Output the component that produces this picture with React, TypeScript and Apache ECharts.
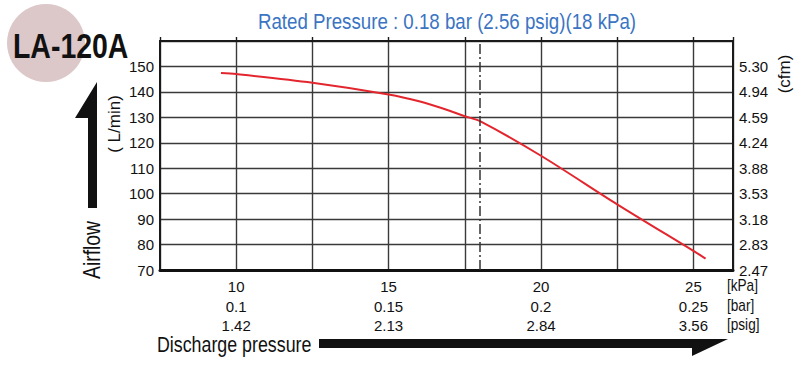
import React, { useEffect, useRef } from "react";
import * as echarts from "echarts";

const pressureKpa = [9.5, 10, 12.5, 15, 16, 17, 17.5, 18, 20, 22.5, 25, 25.4];
const airflowLpm = [147.4, 147.0, 143.6, 139.0, 136.3, 132.6, 130.4, 128.5, 114.9, 95.8, 77.5, 74.5];
const kpaTicks = [10, 15, 20, 25];
const barLabels = ["0.1", "0.15", "0.2", "0.25"];
const psigLabels = ["1.42", "2.13", "2.84", "3.56"];
const flowTicks = [70, 80, 90, 100, 110, 120, 130, 140, 150];
const cfmLabels = ["2.47", "2.83", "3.18", "3.53", "3.88", "4.24", "4.59", "4.94", "5.30"];
const unitLabels = ["[kPa]", "[bar]", "[psig]"];
const ratedKpa = 18;
const titleText = "Rated Pressure : 0.18 bar (2.56 psig)(18 kPa)";
const modelName = "LA-120A";

const SANS = "'Liberation Sans', Arial, Helvetica, sans-serif";

export default function App() {
  const ref = useRef<HTMLDivElement>(null);
  useEffect(() => {
    if (!ref.current) return;
    const chart = echarts.init(ref.current, null, { renderer: "svg" });
    const data = pressureKpa.map((x, i) => [x, airflowLpm[i]]);
    const option: any = {
      animation: false,
      backgroundColor: "#ffffff",
      textStyle: { fontFamily: SANS },
      grid: {
        left: 160,
        right: 71,
        top: 41,
        bottom: 105,
        show: true,
        borderColor: "#1a1a1a",
        borderWidth: 2,
      },
      xAxis: [
        {
          type: "value",
          min: 7.5,
          max: 26.3,
          interval: 2.5,
          position: "bottom",
          axisLine: { show: true, lineStyle: { color: "#111", width: 3 } },
          axisTick: { show: false },
          splitLine: { show: true, lineStyle: { color: "#3a3a3a", width: 1.4 } },
          axisLabel: {
            margin: 7,
            fontSize: 15,
            lineHeight: 19.5,
            color: "#111",
            fontFamily: SANS,
            showMaxLabel: false,
            formatter: (v: number) => {
              const i = kpaTicks.findIndex((k) => Math.abs(k - v) < 1e-6);
              if (i < 0) return "";
              return `${kpaTicks[i]}\n${barLabels[i]}\n${psigLabels[i]}`;
            },
          },
        },
        {
          type: "value",
          min: 7.5,
          max: 26.3,
          interval: 2.5,
          position: "top",
          axisLine: { show: true, lineStyle: { color: "#1a1a1a", width: 2 } },
          axisTick: { show: true, length: 4, inside: false, lineStyle: { color: "#1a1a1a", width: 1.4 } },
          splitLine: { show: false },
          axisLabel: { show: false },
        },
      ],
      yAxis: [
        {
          type: "value",
          min: 70,
          max: 160,
          interval: 10,
          position: "left",
          axisLine: { show: true, lineStyle: { color: "#1a1a1a", width: 2 } },
          axisTick: { show: false },
          splitLine: { show: true, lineStyle: { color: "#3a3a3a", width: 1.4 } },
          axisLabel: {
            margin: 6,
            fontSize: 15,
            color: "#111",
            fontFamily: SANS,
            formatter: (v: number) => (flowTicks.includes(v) ? String(v) : ""),
          },
        },
        {
          type: "value",
          min: 70,
          max: 160,
          interval: 10,
          position: "right",
          axisLine: { show: true, lineStyle: { color: "#1a1a1a", width: 2 } },
          axisTick: { show: false },
          splitLine: { show: false },
          axisLabel: {
            margin: 6,
            fontSize: 15,
            color: "#111",
            fontFamily: SANS,
            formatter: (v: number) => {
              const i = flowTicks.indexOf(v);
              return i >= 0 ? cfmLabels[i] : "";
            },
          },
        },
      ],
      series: [
        {
          type: "line",
          data,
          smooth: 0.3,
          showSymbol: false,
          lineStyle: { color: "#e3262e", width: 2 },
          markLine: {
            silent: true,
            symbol: "none",
            label: { show: false },
            lineStyle: { color: "#333", width: 1.5, type: [10, 3, 2, 3] },
            data: [{ xAxis: ratedKpa }],
          },
        },
      ],
      graphic: [
        { type: "circle", shape: { cx: 46, cy: 43, r: 39 }, style: { fill: "#dcc7c9" } },
        {
          type: "text",
          x: 13,
          y: 46,
          scaleX: 0.79,
          style: {
            text: modelName,
            fontSize: 36,
            fontWeight: "bold",
            fontFamily: SANS,
            fill: "#111",
            align: "left",
            verticalAlign: "middle",
            shadowColor: "rgba(0,0,0,0.35)",
            shadowOffsetX: 1,
            shadowOffsetY: 1,
          },
        },
        {
          type: "text",
          x: 447,
          y: 21,
          scaleX: 0.85,
          style: {
            text: titleText,
            fontSize: 22,
            fontFamily: SANS,
            fill: "#3a74c2",
            align: "center",
            verticalAlign: "middle",
          },
        },
        {
          type: "polygon",
          shape: { points: [[97, 82], [97, 208], [88, 208], [88, 118], [75, 118]] },
          style: { fill: "#111" },
        },
        {
          type: "text",
          x: 92,
          y: 250,
          rotation: Math.PI / 2,
          scaleX: 0.84,
          style: {
            text: "Airflow",
            fontSize: 23,
            fontFamily: SANS,
            fill: "#111",
            align: "center",
            verticalAlign: "middle",
          },
        },
        {
          type: "text",
          x: 114,
          y: 124,
          rotation: Math.PI / 2,
          style: {
            text: "( L/min)",
            fontSize: 17,
            fontFamily: SANS,
            fill: "#111",
            align: "center",
            verticalAlign: "middle",
          },
        },
        {
          type: "text",
          x: 784,
          y: 74,
          rotation: Math.PI / 2,
          style: {
            text: "(cfm)",
            fontSize: 17,
            fontFamily: SANS,
            fill: "#111",
            align: "center",
            verticalAlign: "middle",
          },
        },
        ...unitLabels.map((t, i) => ({
          type: "text",
          x: 727,
          y: 286 + i * 19.5,
          scaleX: 0.85,
          style: {
            text: t,
            fontSize: 16,
            fontFamily: SANS,
            fill: "#111",
            align: "left",
            verticalAlign: "middle",
          },
        })),
        {
          type: "text",
          x: 157,
          y: 344,
          scaleX: 0.81,
          style: {
            text: "Discharge pressure",
            fontSize: 22,
            fontFamily: SANS,
            fill: "#111",
            align: "left",
            verticalAlign: "middle",
          },
        },
        {
          type: "polygon",
          shape: { points: [[319, 339], [728, 339], [692, 356], [692, 348], [319, 348]] },
          style: { fill: "#111" },
        },
      ],
    };
    chart.setOption(option);
    return () => chart.dispose();
  }, []);
  return (
    <div
      ref={ref}
      style={{ position: "absolute", left: 0, top: 0, width: 804, height: 375 }}
    />
  );
}
